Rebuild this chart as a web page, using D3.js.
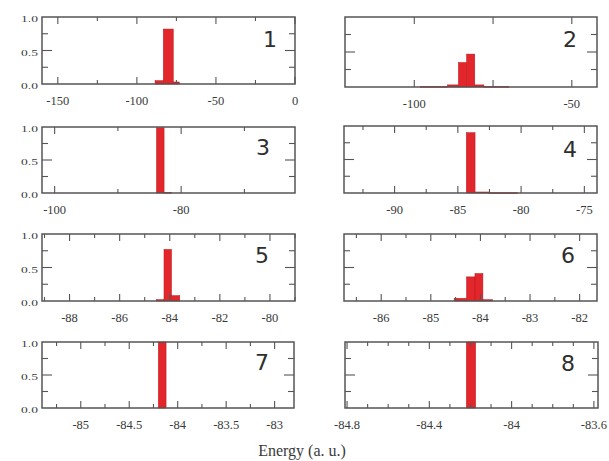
<!DOCTYPE html>
<html>
<head>
<meta charset="utf-8">
<script src="https://cdn.jsdelivr.net/npm/d3@7"></script>
<style>
  html, body { margin: 0; padding: 0; background: #fff; }
  svg { display: block; }
</style>
</head>
<body>
<svg id="chart" width="609" height="461"></svg>
<script>
// Energy histograms for eight runs: bin edges (a. u.) and normalised frequencies
const binLo1 = [-88.5, -83.3, -77.0];
const binHi1 = [-83.3, -77.0, -73.2];
const freq1  = [0.05, 0.82, 0.03];

const binLo2 = [-98.0, -89.5, -86.0, -83.4, -80.8, -77.9];
const binHi2 = [-89.5, -86.0, -83.4, -80.8, -77.9, -70.0];
const freq2  = [0.008, 0.03, 0.35, 0.47, 0.03, 0.008];

const binLo3 = [-83.9, -82.7];
const binHi3 = [-82.7, -81.5];
const freq3  = [0.99, 0.01];

const binLo4 = [-84.33, -83.64, -82.5];
const binHi4 = [-83.64, -82.5, -80.3];
const freq4  = [0.90, 0.015, 0.005];

const binLo5 = [-84.52, -84.23, -83.93];
const binHi5 = [-84.23, -83.93, -83.60];
const freq5  = [0.02, 0.77, 0.08];

const binLo6 = [-84.53, -84.28, -84.11, -83.95];
const binHi6 = [-84.28, -84.11, -83.95, -83.76];
const freq6  = [0.04, 0.36, 0.41, 0.02];

const binLo7 = [-84.20];
const binHi7 = [-84.12];
const freq7  = [1.0];

const binLo8 = [-84.22];
const binHi8 = [-84.175];
const freq8  = [1.0];

// Labelled x ticks of each panel
const xLabels1 = [-150, -100, -50, 0];
const xLabels2 = [-100, -50];
const xLabels3 = [-100, -80];
const xLabels4 = [-90, -85, -80, -75];
const xLabels5 = [-88, -86, -84, -82, -80];
const xLabels6 = [-86, -85, -84, -83, -82];
const xLabels7 = [-85, -84.5, -84, -83.5, -83];
const xLabels8 = [-84.8, -84.4, -84, -83.6];

const yLabels = [0, 0.5, 1];
const xTitle = "Energy (a. u.)";

// Panel frames: box in pixels, x range shown and spacing of the tick marks
const panels = [
  { name: "1", lo: binLo1, hi: binHi1, f: freq1, labels: xLabels1, dom: [-160, 0],      step: 25,   extraMajor: [],
    box: [42, 295, 17, 84],  tag: [277, 47] },
  { name: "2", lo: binLo2, hi: binHi2, f: freq2, labels: xLabels2, dom: [-122, -42],    step: 25,   extraMajor: [-75],
    box: [345, 597, 17, 87], tag: [577, 47] },
  { name: "3", lo: binLo3, hi: binHi3, f: freq3, labels: xLabels3, dom: [-102, -62],    step: 10,   extraMajor: [],
    box: [42, 295, 127, 193], tag: [270, 155] },
  { name: "4", lo: binLo4, hi: binHi4, f: freq4, labels: xLabels4, dom: [-94, -74],     step: 2.5,  extraMajor: [],
    box: [344, 597, 126, 193], tag: [577, 157] },
  { name: "5", lo: binLo5, hi: binHi5, f: freq5, labels: xLabels5, dom: [-89.1, -79],   step: 1,    extraMajor: [],
    box: [42, 295, 234, 301], tag: [269, 263] },
  { name: "6", lo: binLo6, hi: binHi6, f: freq6, labels: xLabels6, dom: [-86.75, -81.65], step: 0.5, extraMajor: [],
    box: [344, 597, 234, 301], tag: [575, 263] },
  { name: "7", lo: binLo7, hi: binHi7, f: freq7, labels: xLabels7, dom: [-85.4, -82.8], step: 0.25, extraMajor: [],
    box: [42, 294, 342, 408], tag: [269, 370] },
  { name: "8", lo: binLo8, hi: binHi8, f: freq8, labels: xLabels8, dom: [-84.81, -83.58], step: 0.1,  extraMajor: [],
    box: [345, 598, 342, 408], tag: [575, 371] }
];

const svg = d3.select("#chart");
const frameColor = "#555";
const textColor = "#3a3a3a";
const barColor = "#e3262b";
const fmt = v => (Math.abs(v) < 1e-9 ? "0" : String(+v.toFixed(2)));

panels.forEach((p, i) => {
  const [x0, x1, y0, y1] = p.box;
  const x = d3.scaleLinear().domain(p.dom).range([x0, x1]);
  const y = d3.scaleLinear().domain([0, 1]).range([y1, y0]);
  const g = svg.append("g");
  const leftCol = i % 2 === 0;

  // bars
  const bins = p.f.map((v, k) => ({ lo: p.lo[k], hi: p.hi[k], v }));
  g.selectAll("rect.bar").data(bins).join("rect")
    .attr("class", "bar")
    .attr("x", d => x(d.lo))
    .attr("width", d => Math.max(0.8, x(d.hi) - x(d.lo)))
    .attr("y", d => y(d.v))
    .attr("height", d => Math.max(0.8, y(0) - y(d.v)))
    .attr("fill", barColor)
    .attr("stroke", "#b31a1a")
    .attr("stroke-width", 0.5);

  // x ticks (inward, top and bottom)
  const first = Math.ceil((p.dom[0] - 1e-9) / p.step);
  const last = Math.floor((p.dom[1] + 1e-9) / p.step);
  const ticks = d3.range(first, last + 1).map(k => +(k * p.step).toFixed(4));
  const isMajor = t => p.labels.some(l => Math.abs(l - t) < 1e-6) || p.extraMajor.some(l => Math.abs(l - t) < 1e-6);
  ticks.forEach(t => {
    const len = isMajor(t) ? 7 : 4;
    const xp = x(t);
    g.append("line").attr("x1", xp).attr("x2", xp).attr("y1", y1).attr("y2", y1 - len)
      .attr("stroke", frameColor).attr("stroke-width", 1.1);
    g.append("line").attr("x1", xp).attr("x2", xp).attr("y1", y0).attr("y2", y0 + len)
      .attr("stroke", frameColor).attr("stroke-width", 1.1);
  });

  // y ticks (inward, left and right)
  [0.25, 0.5, 0.75].forEach(v => {
    const len = v === 0.5 ? 10 : 6;
    const yp = y(v);
    g.append("line").attr("x1", x0).attr("x2", x0 + len).attr("y1", yp).attr("y2", yp)
      .attr("stroke", frameColor).attr("stroke-width", 1.1);
    g.append("line").attr("x1", x1).attr("x2", x1 - len).attr("y1", yp).attr("y2", yp)
      .attr("stroke", frameColor).attr("stroke-width", 1.1);
  });

  // frame
  g.append("rect").attr("x", x0).attr("y", y0).attr("width", x1 - x0).attr("height", y1 - y0)
    .attr("fill", "none").attr("stroke", frameColor).attr("stroke-width", 1.5);

  // x tick labels
  g.selectAll("text.xl").data(p.labels).join("text")
    .attr("class", "xl")
    .attr("x", d => x(d))
    .attr("y", y1 + 21)
    .attr("text-anchor", "middle")
    .attr("font-family", "'Liberation Serif', 'Times New Roman', serif")
    .attr("font-size", 12.5)
    .attr("fill", textColor)
    .text(d => fmt(d));

  // y tick labels on the left column only
  if (leftCol) {
    g.selectAll("text.yl").data(yLabels).join("text")
      .attr("class", "yl")
      .attr("transform", d => `translate(${x0 - 4},${y(d) + 5}) scale(1.5,1)`)
      .attr("text-anchor", "end")
      .attr("font-family", "'Liberation Serif', 'Times New Roman', serif")
      .attr("font-size", 9)
      .attr("fill", textColor)
      .text(d => d3.format(".1f")(d));
  }

  // run number
  g.append("text")
    .attr("x", p.tag[0]).attr("y", p.tag[1])
    .attr("text-anchor", "end")
    .attr("font-family", "'DejaVu Sans', sans-serif")
    .attr("font-size", 22)
    .attr("fill", "#2e2e2e")
    .text(p.name);
});

svg.append("text")
  .attr("x", 302).attr("y", 456)
  .attr("text-anchor", "middle")
  .attr("font-family", "'Liberation Serif', 'Times New Roman', serif")
  .attr("font-size", 16)
  .attr("fill", textColor)
  .text(xTitle);
</script>
</body>
</html>
